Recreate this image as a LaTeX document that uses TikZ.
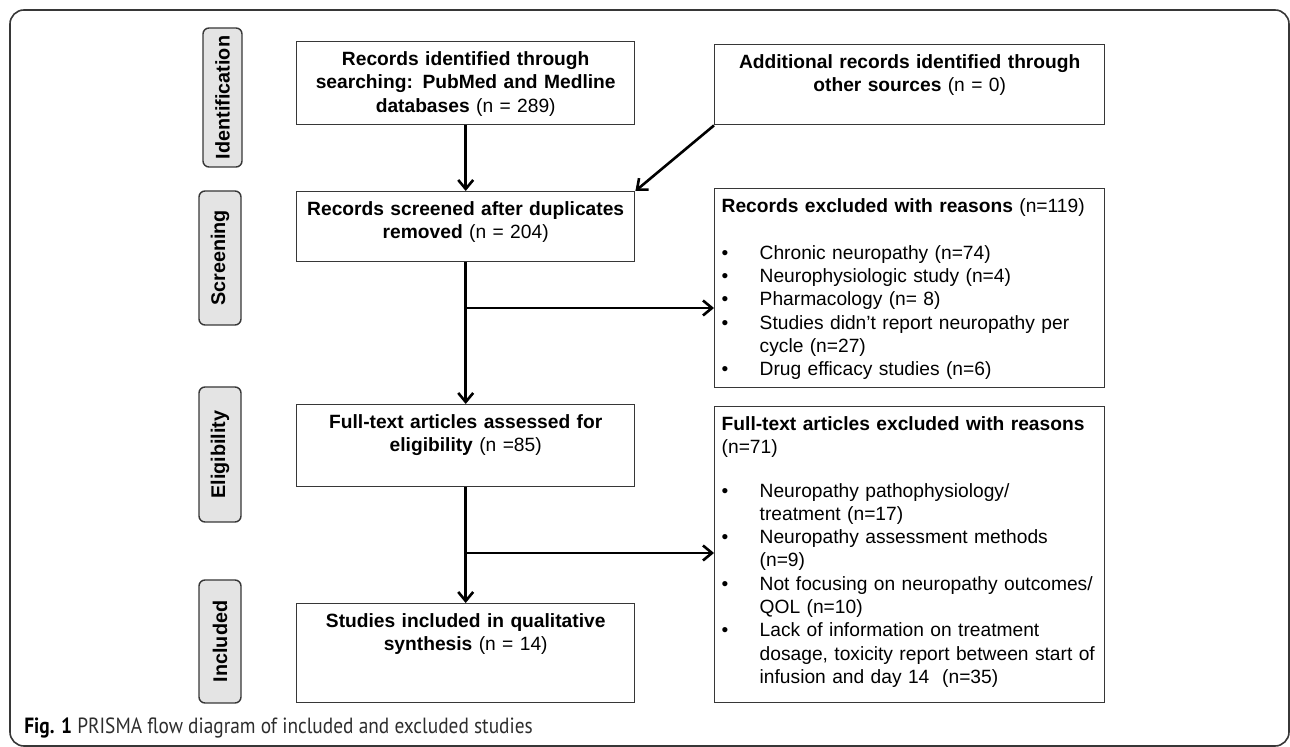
\documentclass[tikz,border=0pt]{standalone}
\usepackage{fontspec}
\setmainfont{Liberation Sans}
\newfontfamily\capfont[FakeStretch=0.88]{PT Sans}
\usetikzlibrary{arrows.meta}
\definecolor{tabgray}{RGB}{228,228,228}
\definecolor{linegray}{RGB}{55,55,55}
\definecolor{capgray}{RGB}{45,45,45}

\begin{document}
\begin{tikzpicture}[x=0.5pt, y=-0.5pt,
    every node/.style={font=\fontsize{9.6}{11.65}\selectfont},
    stage/.style={draw=linegray, line width=0.7pt, fill=tabgray, rounded corners=3pt, rotate=90,
      font=\fontsize{9.9}{12}\selectfont\bfseries, minimum height=21pt, inner sep=0pt},
    flowbox/.style={draw=linegray, line width=0.7pt, anchor=north west, align=center,
      text width=161pt, inner xsep=4pt, inner ysep=4pt, text height=8pt},
    exclbox/.style={flowbox, align=left, text width=188pt, inner xsep=3.5pt},
    arrow/.style={line width=1.3pt, -{Straight Barb[length=4.5pt, width=7.5pt]}}
  ]
    \useasboundingbox (0,0) rectangle (1290,747);

    % Frame
    \draw[linegray, line width=0.8pt, rounded corners=7pt] (10,10) rectangle (1289,746);

    % Stages
    \node[stage, minimum width=69.5pt, minimum height=19.5pt] (ident) at (222.5,97.5) {Identification};
    \node[stage, minimum width=67pt] (screen) at (220,258) {Screening};
    \node[stage, minimum width=67.5pt] (elig) at (220,454.5) {Eligibility};
    \node[stage, minimum width=61.5pt] (incl) at (220,641.5) {Included};

    % Main column
    \node[flowbox, text depth=25.5pt] (found) at (296,41)
      {\textbf{Records identified through}\\\textbf{searching: PubMed and Medline}\\\textbf{databases} (n = 289)};
    \node[flowbox, text depth=19pt] (scr) at (296,191)
      {\textbf{Records screened after duplicates}\\\textbf{removed} (n = 204)};
    \node[flowbox, text depth=25pt] (full) at (296,404)
      {\textbf{Full-text articles assessed for}\\\textbf{eligibility} (n =85)};
    \node[flowbox, text depth=33.5pt] (synth) at (296,603)
      {\textbf{Studies included in qualitative}\\\textbf{synthesis} (n = 14)};

    % Side column
    \node[flowbox, text depth=24pt, text width=187pt] (extra) at (714,44)
      {\textbf{Additional records identified through}\\\textbf{other sources} (n = 0)};
    \node[exclbox, text depth=83.5pt] (rex) at (714,188)
      {\textbf{Records excluded with reasons} (n=119)\\[11.65pt]
       \makebox[19pt][l]{\textbullet}Chronic neuropathy (n=74)\\
       \makebox[19pt][l]{\textbullet}Neurophysiologic study (n=4)\\
       \makebox[19pt][l]{\textbullet}Pharmacology (n= 8)\\
       \makebox[19pt][l]{\textbullet}Studies didn’t report neuropathy per\\
       \hspace*{19pt}cycle (n=27)\\
       \makebox[19pt][l]{\textbullet}Drug efficacy studies (n=6)};
    \node[exclbox, text depth=132pt] (fex) at (714,406)
      {\textbf{Full-text articles excluded with reasons}\\(n=71)\\[9.9pt]
       \makebox[19pt][l]{\textbullet}Neuropathy pathophysiology/\\
       \hspace*{19pt}treatment (n=17)\\
       \makebox[19pt][l]{\textbullet}Neuropathy assessment methods\\
       \hspace*{19pt}(n=9)\\
       \makebox[19pt][l]{\textbullet}Not focusing on neuropathy outcomes/\\
       \hspace*{19pt}QOL (n=10)\\
       \makebox[19pt][l]{\textbullet}Lack of information on treatment\\
       \hspace*{19pt}dosage, toxicity report between start of\\
       \hspace*{19pt}infusion and day 14~ (n=35)};

    % Arrows
    \draw[arrow] (found) -- (scr);
    \draw[arrow] (extra.south west) -- (scr.north east);
    \draw[arrow] (scr) -- (full);
    \draw[arrow] (full) -- (synth);
    \coordinate (split1) at (465,308);
    \coordinate (split2) at (465,553);
    \draw[arrow] (split1) -- (split1 -| rex.west);
    \draw[arrow] (split2) -- (split2 -| fex.west);

    % Caption
    \node[anchor=west, inner sep=0pt, text=capgray, font=\capfont\fontsize{11}{13}\selectfont] (caption) at (24,728)
      {{\color{black}\textbf{Fig. 1}} PRISMA flow diagram of included and excluded studies};
\end{tikzpicture}
\end{document}
